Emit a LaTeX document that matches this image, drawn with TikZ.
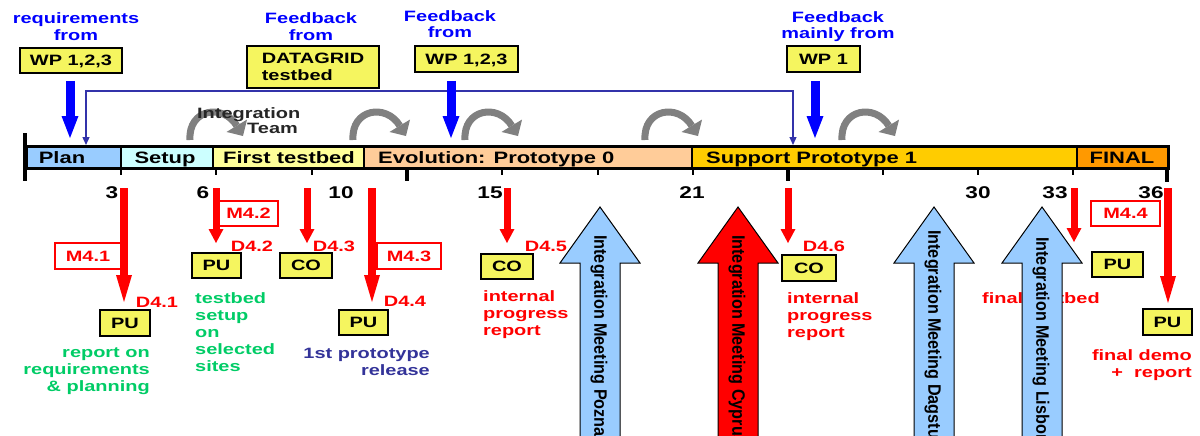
\documentclass[tikz,border=0pt]{standalone}
\usepackage{fontspec}
\setmainfont{Liberation Sans}[FakeStretch=1.33]
\newfontfamily\condfont{Liberation Sans}[FakeStretch=0.9]
\usetikzlibrary{arrows.meta}
\definecolor{fbblue}{RGB}{0,0,255}
\definecolor{linkblue}{RGB}{51,51,170}
\definecolor{dkblue}{RGB}{51,51,153}
\definecolor{rgreen}{RGB}{0,204,102}
\definecolor{boxyellow}{RGB}{245,245,95}
\definecolor{planblue}{RGB}{153,204,255}
\definecolor{setupcyan}{RGB}{204,255,255}
\definecolor{ftyellow}{RGB}{255,255,153}
\definecolor{evopeach}{RGB}{255,204,153}
\definecolor{supgold}{RGB}{255,204,0}
\definecolor{finorange}{RGB}{255,153,0}
\definecolor{mtgblue}{RGB}{153,204,255}
\definecolor{arcgray}{RGB}{128,128,128}
\begin{document}
\begin{tikzpicture}[x=1pt,y=-1pt,
  txt/.style={inner sep=0pt, font=\bfseries\fontsize{15}{17}\selectfont},
  toplbl/.style={txt, text=fbblue, align=center},
  ybox/.style={draw=black, line width=1.8pt, fill=boxyellow, inner sep=0pt, text depth=0pt, font=\bfseries\fontsize{15}{17}\selectfont},
  mbox/.style={draw=red, line width=1.2pt, fill=white, inner sep=0pt, text=red, text depth=0pt, font=\bfseries\fontsize{15}{17}\selectfont},
  dlbl/.style={txt, text=red, anchor=base},
  seg/.style={draw=black, line width=2pt},
  segtxt/.style={inner sep=0pt, font=\bfseries\fontsize{16.5}{18}\selectfont},
  month/.style={inner sep=0pt, anchor=base, font=\bfseries\fontsize{17}{19}\selectfont},
  fbarrow/.style={draw=fbblue, line width=9pt, -{Triangle[length=22pt,width=17pt,line width=0pt]}},
  redlong/.style={draw=red, line width=8pt, -{Triangle[length=27pt,width=16pt,line width=0pt]}},
  redshort/.style={draw=red, line width=7pt, -{Triangle[length=14pt,width=15pt,line width=0pt]}},
  arcarrow/.style={draw=arcgray, line width=7pt, -{Triangle[length=12pt,width=24pt,line width=0pt]}},
  link/.style={draw=linkblue, line width=1.3pt, {Triangle[length=8pt,width=7pt]}-{Triangle[length=8pt,width=7pt]}},
  mtg/.style={draw=black, line width=1pt},
  mtgtxt/.style={inner sep=0pt, rotate=-90, anchor=west, font=\condfont\bfseries\fontsize{18}{20}\selectfont},
  desc/.style={txt, anchor=base},
]
\useasboundingbox (0,0) rectangle (1200,436);
\clip (0,0) rectangle (1200,436);
\fill[white] (0,0) rectangle (1200,436);

% ---------- top labels (base = last line) ----------
\node[toplbl, anchor=base] (lreq) at (76,41) {requirements\\from};
\node[toplbl, anchor=base] (lfb1) at (311,41) {Feedback\\from};
\node[toplbl, anchor=base] (lfb2) at (450,38) {Feedback\\from};
\node[toplbl, anchor=base] (lfb3) at (838,39) {Feedback\\mainly from};

\node[ybox, minimum width=102pt, minimum height=25pt] (wpa) at (71,60.5) {WP 1,2,3};
\node[ybox, minimum width=132pt, minimum height=42pt, align=left] (dg) at (313,67) {DATAGRID\\testbed};
\node[ybox, minimum width=103pt, minimum height=26pt] (wpb) at (466.5,59) {WP 1,2,3};
\node[ybox, minimum width=73pt, minimum height=26pt] (wpc) at (823.5,59) {WP 1};

% ---------- feedback link ----------
\coordinate (lkL) at (86,145);
\coordinate (lkR) at (793,145);
\draw[link] (lkL) -- ++(0,-54) -| (lkR);

% ---------- blue input arrows ----------
\coordinate (fa1s) at (70,81);  \coordinate (fa1e) at (70,138);
\coordinate (fa2s) at (451,81); \coordinate (fa2e) at (451,138);
\coordinate (fa3s) at (815,81); \coordinate (fa3e) at (815,138);
\draw[fbarrow] (fa1s) -- (fa1e);
\draw[fbarrow] (fa2s) -- (fa2e);
\draw[fbarrow] (fa3s) -- (fa3e);

% ---------- integration team arcs ----------
\foreach \x [count=\i] in {185,348,460,640,837}{
  \coordinate (arc\i s) at (\x+5,140);
  \coordinate (arc\i e) at (\x+58,136);
  \draw[arcarrow] (arc\i s) .. controls (\x+3,109) and (\x+38,103) .. (arc\i e);
}
\node[txt, anchor=base west, align=left, text=black!85, font=\bfseries\fontsize{15}{15}\selectfont] (iteam) at (197,133) {Integration\\\hspace*{50pt}Team};

% ---------- time bar ----------
\draw[seg, fill=planblue]  (26,146) rectangle (121,168);
\draw[seg, fill=setupcyan] (121,146) rectangle (213,168);
\draw[seg, fill=ftyellow]  (213,146) rectangle (364,168);
\draw[seg, fill=evopeach]  (364,146) rectangle (692,168);
\draw[seg, fill=supgold]   (692,146) rectangle (1077,168);
\draw[seg, fill=finorange] (1077,146) rectangle (1168,168);
\draw[line width=3pt] (26,146) rectangle (1168,168);
\node[segtxt, anchor=base] (tplan) at (62,163) {Plan};
\node[segtxt, anchor=base] (tsetup) at (165,163) {Setup};
\node[segtxt, anchor=base] (tfirst) at (289,163) {First testbed};
\node[segtxt, anchor=base west] (tevo) at (378,163) {Evolution: Prototype 0};
\node[segtxt, anchor=base west] (tsup) at (706,163) {Support Prototype 1};
\node[segtxt, anchor=base] (tfin) at (1122,163) {FINAL};

\draw[line width=4.5pt] (25,133) -- (25,181);
\draw[line width=4pt] (1167,168) -- (1167,182);
\foreach \t in {407,788} \draw[line width=3.5pt] (\t,168) -- (\t,181);
\foreach \t in {121,216,312,502,598,693,883,978,1073} \draw[line width=1.5pt] (\t,168) -- (\t,175);

\node[month] (m3) at (112,198) {3};
\node[month] (m6) at (203,198) {6};
\node[month] (m10) at (341,198) {10};
\node[month] (m15) at (490,198) {15};
\node[month] (m21) at (692,198) {21};
\node[month] (m30) at (978,198) {30};
\node[month] (m33) at (1055,198) {33};
\node[month] (m36) at (1151,198) {36};

% ---------- milestone boxes ----------
\node[mbox, minimum width=66pt, minimum height=26pt] (ms1) at (88,256) {M4.1};
\node[mbox, minimum width=59pt, minimum height=25pt] (ms2) at (248.5,213.5) {M4.2};
\node[mbox, minimum width=64pt, minimum height=26pt] (ms3) at (409,256) {M4.3};
\node[mbox, minimum width=69pt, minimum height=25pt] (ms4) at (1125.5,213.5) {M4.4};

% ---------- deliverable boxes ----------
\node[ybox, minimum width=50pt, minimum height=26pt] (d1) at (125,323) {PU};
\node[ybox, minimum width=49pt, minimum height=25pt] (d2) at (216.5,265.5) {PU};
\node[ybox, minimum width=52pt, minimum height=25pt] (d3) at (306,265.5) {CO};
\node[ybox, minimum width=49pt, minimum height=25pt] (d4) at (363.5,322.5) {PU};
\node[ybox, minimum width=52pt, minimum height=25pt] (d5) at (507,266.5) {CO};
\node[ybox, minimum width=54pt, minimum height=26pt] (d6) at (809,268) {CO};
\node[ybox, minimum width=51pt, minimum height=25pt] (d7) at (1117.5,264.5) {PU};
\node[ybox, minimum width=49pt, minimum height=26pt] (d8) at (1167.5,322) {PU};

\node[dlbl] (l1) at (157,307) {D4.1};
\node[dlbl] (l2) at (252,251) {D4.2};
\node[dlbl] (l3) at (334,251) {D4.3};
\node[dlbl] (l4) at (405,306) {D4.4};
\node[dlbl] (l5) at (546,251) {D4.5};
\node[dlbl] (l6) at (824,251) {D4.6};

% ---------- descriptions (base = last line) ----------
\node[desc, anchor=base east, align=right, text=rgreen] (x1) at (150,391) {report on\\requirements\\\& planning};
\node[desc, anchor=base west, align=left, text=rgreen] (x2) at (195,371) {testbed\\setup\\on\\selected\\sites};
\node[desc, anchor=base east, align=right, text=dkblue] (x4) at (430,375) {1st prototype\\release};
\node[desc, anchor=base west, align=left, text=red] (x5) at (483,335) {internal\\progress\\report};
\node[desc, anchor=base west, align=left, text=red] (x6) at (787,337) {internal\\progress\\report};
\node[desc, anchor=base west, text=red] (x7) at (982,303) {final testbed};
\node[desc, anchor=base east, align=right, text=red] (x8) at (1192,377) {final demo\\+\ \ report};

% ---------- red deliverable arrows ----------
\coordinate (r1s) at (124,188);  \coordinate (r1e) at (124,302);
\coordinate (r2s) at (216,188);  \coordinate (r2e) at (216,243);
\coordinate (r3s) at (307,188);  \coordinate (r3e) at (307,243);
\coordinate (r4s) at (372,188);  \coordinate (r4e) at (372,302);
\coordinate (r5s) at (507,188);  \coordinate (r5e) at (507,243);
\coordinate (r6s) at (788,188);  \coordinate (r6e) at (788,243);
\coordinate (r7s) at (1074,188); \coordinate (r7e) at (1074,242);
\coordinate (r8s) at (1168,188); \coordinate (r8e) at (1168,303);
\draw[redlong] (r1s) -- (r1e);
\draw[redshort] (r2s) -- (r2e);
\draw[redshort] (r3s) -- (r3e);
\draw[redlong] (r4s) -- (r4e);
\draw[redshort] (r5s) -- (r5e);
\draw[redshort] (r6s) -- (r6e);
\draw[redshort] (r7s) -- (r7e);
\draw[redlong] (r8s) -- (r8e);

% ---------- integration meetings ----------
\foreach \c/\col in {600/mtgblue,738/red,934/mtgblue,1042/mtgblue}{
  \draw[mtg, fill=\col] (\c-20,440) -- (\c-20,263) -- (\c-40,263) -- (\c,207)
        -- (\c+40,263) -- (\c+20,263) -- (\c+20,440) -- cycle;
}
\node[mtgtxt] (mt1) at (599,235) {Integration Meeting Poznan};
\node[mtgtxt] (mt2) at (737,235) {Integration Meeting Cyprus};
\node[mtgtxt] (mt3) at (933,230) {Integration Meeting Dagstuhl};
\node[mtgtxt] (mt4) at (1041,237) {Integration Meeting Lisbon};
\end{tikzpicture}
\end{document}
